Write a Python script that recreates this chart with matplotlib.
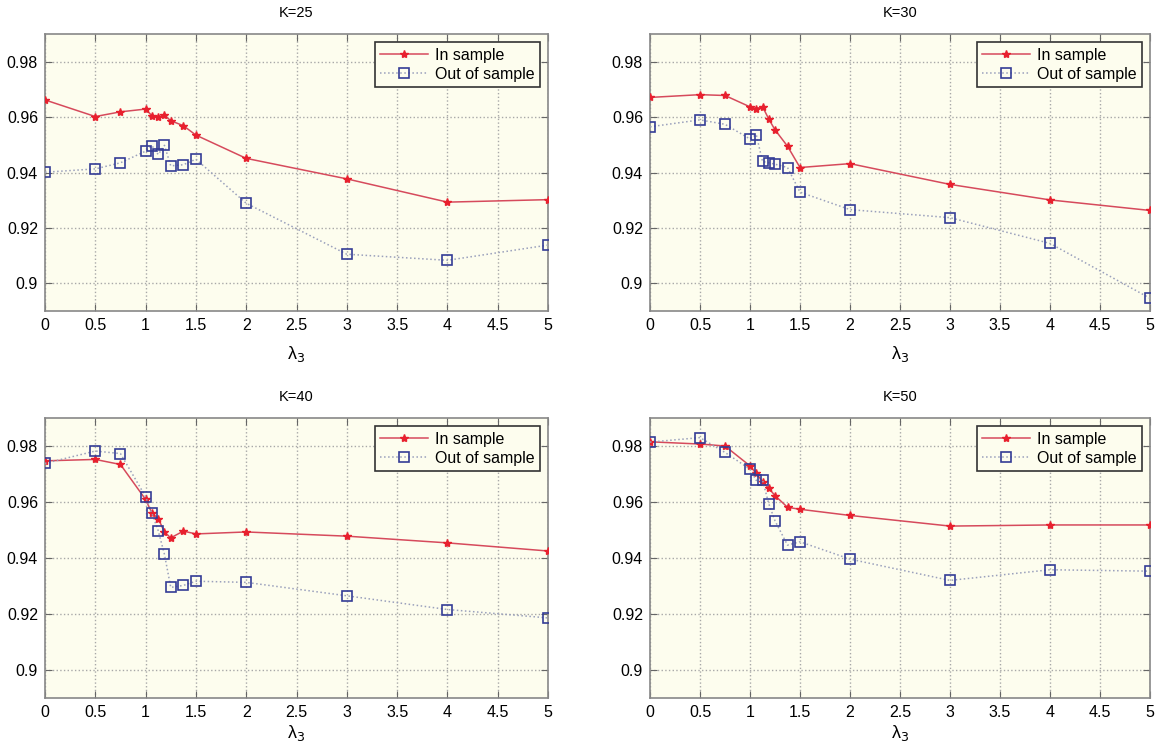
import numpy as np
import matplotlib
matplotlib.use('Agg')
import matplotlib.pyplot as plt

plt.rcParams['font.family'] = ['Liberation Sans', 'DejaVu Sans']

# lambda_3 values (same for every panel)
lam = [0, 0.5, 0.75, 1, 1.0625, 1.125, 1.1875, 1.25, 1.375, 1.5, 2, 3, 4, 5]

titles = ['K=25', 'K=30', 'K=40', 'K=50']

k25_in = [0.9662, 0.9602, 0.9619, 0.9629, 0.9605, 0.9601, 0.9607, 0.9587, 0.9569, 0.9535, 0.9451, 0.9377, 0.9293, 0.9302]
k25_out = [0.9401, 0.9413, 0.9435, 0.9477, 0.9497, 0.9465, 0.9498, 0.9424, 0.9428, 0.9448, 0.9289, 0.9105, 0.9083, 0.9138]

k30_in = [0.9671, 0.9681, 0.9678, 0.9637, 0.9631, 0.9638, 0.9593, 0.9554, 0.9495, 0.9418, 0.9432, 0.9357, 0.9301, 0.9263]
k30_out = [0.9565, 0.9590, 0.9574, 0.9521, 0.9537, 0.9440, 0.9435, 0.9430, 0.9418, 0.9329, 0.9266, 0.9237, 0.9144, 0.8946]

k40_in = [0.9747, 0.9752, 0.9734, 0.9609, 0.9561, 0.9541, 0.9493, 0.9472, 0.9496, 0.9486, 0.9493, 0.9478, 0.9454, 0.9425]
k40_out = [0.9738, 0.9782, 0.9773, 0.9619, 0.9560, 0.9498, 0.9413, 0.9295, 0.9302, 0.9317, 0.9313, 0.9265, 0.9216, 0.9186]

k50_in = [0.9815, 0.9807, 0.9800, 0.9729, 0.9702, 0.9673, 0.9649, 0.9623, 0.9581, 0.9574, 0.9552, 0.9514, 0.9518, 0.9518]
k50_out = [0.9814, 0.9830, 0.9777, 0.9717, 0.9677, 0.9679, 0.9594, 0.9533, 0.9446, 0.9458, 0.9396, 0.9320, 0.9358, 0.9353]

xticks = [0, 0.5, 1, 1.5, 2, 2.5, 3, 3.5, 4, 4.5, 5]
xticklabels = ['0', '0.5', '1', '1.5', '2', '2.5', '3', '3.5', '4', '4.5', '5']
yticks = [0.90, 0.92, 0.94, 0.96, 0.98]
yticklabels = ['0.9', '0.92', '0.94', '0.96', '0.98']

W, H = 1158, 751
fig = plt.figure(figsize=(W / 100, H / 100), dpi=100)

# axes boxes in pixels: left, right, top, bottom
boxes = [(45, 548, 34, 311), (650, 1150, 34, 311),
         (45, 548, 418, 698), (650, 1150, 418, 698)]
ins = [k25_in, k30_in, k40_in, k50_in]
outs = [k25_out, k30_out, k40_out, k50_out]
lpads = [8, 8, 2, 2]

for i in range(4):
    l, r, t, b = boxes[i]
    ax = fig.add_axes([l / W, 1 - b / H, (r - l) / W, (b - t) / H])
    ax.set_facecolor('#fdfdee')

    ax.plot(lam, ins[i], '-', color='#d64a5c', lw=1.1, marker='*',
            markersize=6, markerfacecolor='#e8202e', markeredgecolor='#e8202e',
            label='In sample', zorder=3)
    ax.plot(lam, outs[i], ':', color='#9aa0bc', lw=1.1, marker='s',
            markersize=7.5, markerfacecolor='none', markeredgecolor='#343c96',
            markeredgewidth=1.2, label='Out of sample', zorder=3)

    ax.set_xlim(0, 5)
    ax.set_ylim(0.89, 0.99)
    ax.set_xticks(xticks)
    ax.set_xticklabels(xticklabels)
    ax.set_yticks(yticks)
    ax.set_yticklabels(yticklabels)
    ax.grid(True, linestyle=':', color='#a8a8a8', lw=1.0)
    ax.tick_params(direction='in', top=True, right=True, length=5,
                   color='#666666', labelsize=11.5, pad=5)
    for s in ax.spines.values():
        s.set_color('#888888')
        s.set_linewidth(1.2)

    ax.set_title(titles[i], fontsize=10.5, pad=12)
    ax.set_xlabel('λ$_3$', fontsize=13, labelpad=lpads[i])

    leg = ax.legend(loc='upper right', fontsize=11.5, handlelength=3.0,
                    fancybox=False, framealpha=1, borderaxespad=0.5,
                    borderpad=0.35, labelspacing=0.25, handletextpad=0.4)
    leg.get_frame().set_edgecolor('#333333')
    leg.get_frame().set_facecolor('#fdfdee')
    leg.get_frame().set_linewidth(1.2)

fig.savefig('out.png', dpi=100)
